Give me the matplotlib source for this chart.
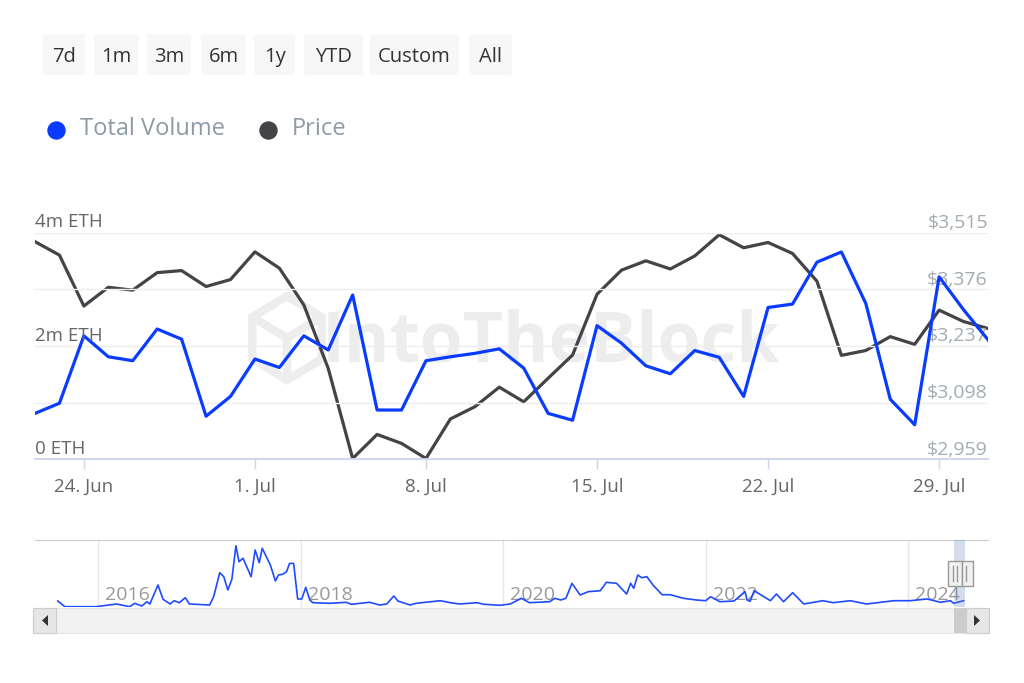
import matplotlib.pyplot as plt
import numpy as np
from matplotlib.patches import Rectangle, FancyBboxPatch, Polygon

plt.rcParams['font.family'] = ['Open Sans', 'DejaVu Sans']

# Dados diários (22 Jun - 31 Jul 2024)
dates = np.arange('2024-06-22', '2024-08-01', dtype='datetime64[D]')
volume_m = [0.81, 0.99, 2.18, 1.81, 1.74, 2.30, 2.12, 0.76, 1.11,
            1.77, 1.62, 2.18, 1.93, 2.90, 0.87, 0.87, 1.74, 1.81, 1.87, 1.95, 1.61,
            0.81, 0.69, 2.36, 2.05, 1.65, 1.51, 1.92, 1.80, 1.11, 2.68, 2.74,
            3.48, 3.66, 2.75, 1.06, 0.61, 3.22, 2.64, 2.11]
price = [3493, 3460, 3335, 3381, 3374, 3417, 3422, 3383, 3400,
         3468, 3428, 3338, 3182, 2961, 3020, 2998, 2961, 3058, 3088, 3136, 3100,
         3158, 3215, 3364, 3423, 3446, 3426, 3458, 3510, 3478, 3491, 3464,
         3396, 3214, 3226, 3260, 3241, 3325, 3297, 3280]

x_tick_labels = ['24. Jun', '1. Jul', '8. Jul', '15. Jul', '22. Jul', '29. Jul']
vol_ticks = [0, 1, 2, 3, 4]
vol_labels = {0: '0 ETH', 2: '2m ETH', 4: '4m ETH'}
price_ticks = [2959, 3098, 3237, 3376, 3515]

# Navegador (histórico completo, volume relativo)
nav_year = [2015.60, 2015.67, 2015.98, 2016.18, 2016.31, 2016.36, 2016.43, 2016.48, 2016.51,
            2016.59, 2016.64, 2016.71, 2016.75, 2016.80, 2016.86, 2016.90, 2017.10, 2017.14,
            2017.20, 2017.24, 2017.28, 2017.32, 2017.36, 2017.39, 2017.43, 2017.51, 2017.55,
            2017.59, 2017.62, 2017.70, 2017.75, 2017.78, 2017.82, 2017.86, 2017.89, 2017.93,
            2017.97, 2018.01, 2018.05, 2018.09, 2018.12, 2018.29, 2018.45, 2018.50, 2018.68,
            2018.78, 2018.85, 2018.92, 2018.96, 2019.08, 2019.14, 2019.38, 2019.48, 2019.57,
            2019.74, 2019.81, 2019.97, 2020.07, 2020.18, 2020.26, 2020.46, 2020.51, 2020.57,
            2020.62, 2020.68, 2020.76, 2020.84, 2020.96, 2021.02, 2021.12, 2021.22, 2021.26,
            2021.29, 2021.33, 2021.37, 2021.42, 2021.48, 2021.57, 2021.65, 2021.78, 2021.91,
            2022.00, 2022.05, 2022.14, 2022.28, 2022.39, 2022.41, 2022.44, 2022.48, 2022.64,
            2022.70, 2022.77, 2022.86, 2022.97, 2023.16, 2023.26, 2023.43, 2023.59, 2023.86,
            2024.02, 2024.19, 2024.32, 2024.42, 2024.45, 2024.55]
nav_vol = [6.3, 0.6, 0.6, 3.3, 0.6, 4.0, 1.3, 5.6, 3.3,
           22.3, 8.0, 3.3, 6.6, 4.6, 9.6, 3.3, 2.3, 10.6,
           34.6, 30.6, 17.3, 28.0, 61.6, 45.6, 49.0, 30.6, 57.3,
           44.6, 59.0, 42.3, 26.3, 32.3, 33.0, 35.6, 43.9, 43.9,
           8.3, 8.3, 20.0, 7.3, 4.6, 4.0, 5.0, 3.0, 5.0,
           2.3, 3.3, 11.3, 6.3, 2.3, 4.0, 6.6, 4.6, 3.3,
           4.6, 3.0, 2.0, 3.3, 9.0, 4.6, 5.6, 9.0, 7.3,
           9.0, 24.0, 12.3, 15.6, 16.6, 25.0, 24.0, 13.3, 24.0,
           19.0, 32.3, 29.6, 30.6, 22.3, 12.6, 12.6, 9.0, 7.3,
           6.6, 10.6, 5.6, 6.3, 15.6, 7.3, 6.0, 16.6, 6.6,
           13.3, 5.6, 14.6, 3.3, 6.6, 4.6, 6.6, 3.3, 6.6,
           6.6, 8.3, 5.0, 6.6, 4.0, 6.6]
nav_years_lbl = [2016, 2018, 2020, 2022, 2024]

buttons = ['7d', '1m', '3m', '6m', '1y', 'YTD', 'Custom', 'All']

BLUE = '#0a3cff'
DARK = '#434348'
W, H = 1024, 683

fig = plt.figure(figsize=(10.24, 6.83), dpi=100)

# Camada de fundo em pixels (botões, legenda, marca d'água)
bg = fig.add_axes([0, 0, 1, 1], zorder=0)
bg.set_xlim(0, W)
bg.set_ylim(H, 0)
bg.axis('off')

btn_x = [(42.7, 85), (94, 138.3), (147, 191), (201.3, 245.7), (254.3, 295),
         (304, 363.3), (370, 459), (469.3, 512)]
for name, (x0, x1) in zip(buttons, btn_x):
    bg.add_patch(FancyBboxPatch((x0, 34.5), x1 - x0, 40.5, boxstyle='round,pad=0,rounding_size=2',
                                fc='#f7f7f7', ec='none'))
    bg.text((x0 + x1) / 2, 57, name, ha='center', va='center', fontsize=14.5, color='#333333')

# Legenda
bg.scatter([55.7], [129.5], s=150, color=BLUE, zorder=3)
bg.text(80, 129, 'Total Volume', va='center', fontsize=17, color='#8e9aa6')
bg.scatter([267.7], [129.5], s=150, color=DARK, zorder=3)
bg.text(292, 129, 'Price', va='center', fontsize=17, color='#8e9aa6')

# Marca d'água
ang = np.deg2rad([90, 30, -30, -90, -150, 150])
hx = 287 + 40 * np.cos(ang)
hy = 338 - 42 * np.sin(ang)
bg.add_patch(Polygon(np.column_stack([hx, hy]), closed=True, fill=False, ec='#ededed', lw=6))
for i in (1, 3, 5):
    bg.plot([287, hx[i]], [338, hy[i]], color='#ededed', lw=6, solid_capstyle='butt')
bg.text(322, 344, 'IntoTheBlock', fontsize=50, fontweight='bold', color='#ededed',
        va='center', ha='left')

# Gráfico principal
ax = fig.add_axes([35 / W, 1 - 459.3 / H, 953 / W, 226.6 / H], zorder=2)
ax2 = ax.twinx()
ax.set_zorder(ax2.get_zorder() + 1)
ax.patch.set_visible(False)
ax2.patch.set_visible(False)

xs = np.arange(len(dates))
ax2.plot(xs, price, color=DARK, lw=2.3, solid_joinstyle='round')
ax.plot(xs, volume_m, color=BLUE, lw=2.3, solid_joinstyle='round')

ax.set_xlim(0, len(dates) - 1)
ax.set_ylim(0, 4)
ax2.set_ylim(2959, 3515)
ax.set_yticks(vol_ticks)
ax.grid(axis='y', color='#ededed', lw=1)
ax.tick_params(axis='y', length=0, labelleft=False)
ax2.set_yticks([])

tick_days = [i for i, d in enumerate(dates) if d.astype(object).weekday() == 0]
ax.set_xticks(tick_days)
ax.set_xticklabels(x_tick_labels)
ax.tick_params(axis='x', length=7.5, width=1, color='#ccd6eb', pad=5.5,
               labelsize=13.5, labelcolor='#666666')

for a in (ax, ax2):
    for s in a.spines.values():
        s.set_visible(False)
ax.spines['bottom'].set_visible(True)
ax.spines['bottom'].set_color('#ccd6eb')
ax.spines['bottom'].set_linewidth(1.3)

for v, lbl in vol_labels.items():
    ax.annotate(lbl, xy=(0, v), xycoords=('axes fraction', 'data'), xytext=(0, 7.5),
                textcoords='offset points', va='center', ha='left', fontsize=13.5, color='#666666')
for p in price_ticks:
    ax2.annotate(f'${p:,}', xy=(1, p), xycoords=('axes fraction', 'data'), xytext=(0, 7),
                 textcoords='offset points', va='center', ha='right', fontsize=14, color='#a3abb3')

# Navegador
nav = fig.add_axes([35 / W, 1 - 607.3 / H, 953 / W, 67.3 / H], zorder=2)
nav.set_xlim(2015.375, 2024.79)
nav.set_ylim(0, 67.3)
for yl in nav_years_lbl:
    nav.axvline(yl, color='#e6e6e6', lw=1, zorder=0)
    nav.annotate(str(yl), xy=(yl, 12), xytext=(5, 0), textcoords='offset points',
                 va='center', ha='left', fontsize=14, color='#999999', zorder=1)
nav.plot(nav_year, nav_vol, color='#1f4bff', lw=1.2, zorder=2)
nav.set_xticks([])
nav.set_yticks([])
for s in nav.spines.values():
    s.set_visible(False)
nav.spines['top'].set_visible(True)
nav.spines['top'].set_color('#cccccc')
nav.patch.set_visible(False)

# Camada da frente (barra de rolagem e seleção)
fg = fig.add_axes([0, 0, 1, 1], zorder=5)
fg.set_xlim(0, W)
fg.set_ylim(H, 0)
fg.axis('off')
fg.add_patch(Rectangle((954.3, 540), 10.7, 67.3, fc='#6685c2', alpha=0.28, ec='none'))
fg.add_patch(Rectangle((33, 608), 956, 24.5, fc='#f2f2f2', ec='#e6e6e6', lw=0.8))
fg.add_patch(Rectangle((954, 608), 12, 24.5, fc='#cccccc', ec='none'))
for bx in (33, 966):
    fg.add_patch(Rectangle((bx, 608), 23, 24.5, fc='#e6e6e6', ec='#cccccc', lw=0.8))
fg.add_patch(Polygon([[48, 615], [48, 626], [42, 620.5]], closed=True, fc='#333333'))
fg.add_patch(Polygon([[974, 615], [974, 626], [980, 620.5]], closed=True, fc='#333333'))
for hx0, hw in ((948, 14), (962, 10.5)):
    fg.add_patch(Rectangle((hx0, 561), hw, 25, fc='#f2f2f2', ec='#999999', lw=1))
for lx in (953, 957, 966):
    fg.plot([lx, lx], [566, 581], color='#999999', lw=1)

fig.savefig('out.png', dpi=100)
